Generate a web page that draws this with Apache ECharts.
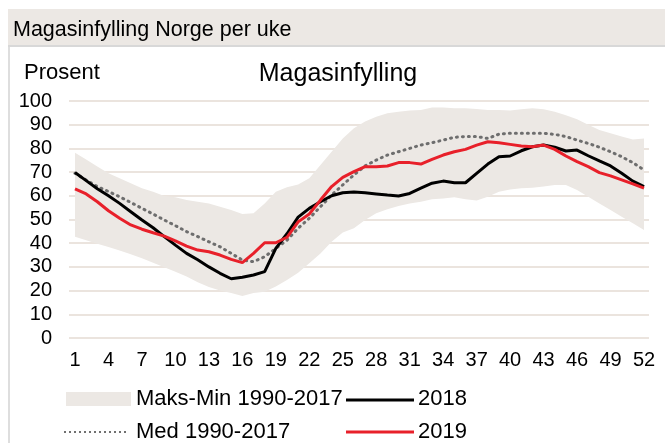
<!DOCTYPE html>
<html>
<head>
<meta charset="utf-8">
<script src="https://cdn.jsdelivr.net/npm/echarts@6/dist/echarts.min.js"></script>
<style>
  html, body { margin: 0; padding: 0; background: #fff; }
  #chart { width: 665px; height: 446px; }
</style>
</head>
<body>
<div id="chart"></div>
<script>
  // uke 1..52
  let weeks = [];
  for (let i = 1; i <= 52; i++) {
    weeks.push(String(i));
  }

  // Maks / min 1990-2017
  const maxValues = [78.2, 75.3, 72.4, 69.5, 67.4, 65.3, 63.2, 61.7, 59.9, 59.4, 58.2, 57.5, 56.8, 55.4, 54, 52.3,
    52.6, 56.8, 61.7, 63.6, 64.8, 67.4, 73, 78.6, 84.2, 88.5, 91.3, 93.4, 94.8, 95.5, 96, 96.2, 97.3, 97.3,
    96.9, 96.9, 96.6, 96.2, 96.2, 96, 96.5, 96.9, 96.5, 95.5, 94, 92.3, 90, 87.8, 86.4, 85, 83.8, 84.2];
  const minValues = [42.7, 41.2, 39.8, 38.4, 36.9, 35.3, 33.6, 31.8, 29.9, 28, 26, 23.5, 21.5, 20, 19, 17.7,
    19, 19.5, 21.7, 24.5, 27.5, 31.5, 35.7, 40.6, 44.5, 46.3, 49.8, 52.6, 54.3, 55.7, 56.8, 57.5, 58.5, 58.9,
    59.4, 58.5, 58, 59.6, 61.7, 62.7, 63.2, 63.4, 63.9, 64.6, 64.6, 62.4, 59.6, 56.8, 54, 51.2, 48.4, 45.6];
  // Median 1990-2017
  const medValues = [69.5, 66.7, 63.9, 61.8, 59.6, 57.2, 54.7, 52.3, 49.8, 47.4, 44.9, 42.8, 40.6, 38.5, 35.7, 32.9,
    32.2, 34.3, 37.8, 41.3, 46.3, 50.5, 55.4, 60.3, 64.6, 68.8, 72.6, 75.1, 77.2, 78.6, 80, 81.4, 82.4, 83.5,
    84.7, 85, 85, 84.2, 86, 86.4, 86.4, 86.4, 86.4, 85.9, 85, 83.5, 82.1, 80.5, 78.6, 76.5, 74, 70.9];
  const values2018 = [69.8, 66.4, 63, 60, 56.8, 53.3, 49.8, 46.5, 42.8, 39.2, 35.7, 33, 30, 27.3, 25, 25.6,
    26.6, 28, 37.8, 44, 51, 54.7, 57.5, 60, 61.3, 61.6, 61.3, 60.8, 60.3, 59.9, 61, 63.2, 65.3, 66.2,
    65.5, 65.5, 69.5, 73.4, 76.5, 76.8, 79, 80.7, 81.4, 80.5, 78.9, 79.3, 76.9, 74.7, 72.6, 69.5, 66.2, 63.9];
  const values2019 = [62.9, 60.8, 57.5, 53.7, 50.5, 47.7, 45.9, 44.4, 43, 41, 38.8, 37.1, 36.4, 35, 33.2, 31.8,
    35.7, 40.2, 40.2, 42.5, 49, 52.3, 58.2, 63.9, 67.8, 70.2, 72.3, 72.3, 72.6, 74, 74, 73.4, 75.4, 77.2,
    78.6, 79.6, 81.4, 82.8, 82.4, 81.7, 81, 80.7, 81.4, 79.6, 76.8, 74.4, 72.3, 69.8, 68.4, 66.7, 65, 63.2];

  const bandValues = maxValues.map((v, i) => +(v - minValues[i]).toFixed(1));

  const font = 'Arial, "Liberation Sans", sans-serif';
  const bandColor = '#ece8e4';

  let chart = echarts.init(document.getElementById('chart'), null, {renderer: 'canvas'});
  chart.setOption({
    animation: false,
    title: [{
      text: 'Magasinfylling',
      left: 333,
      top: 57,
      textAlign: 'center',
      textStyle: {fontFamily: font, fontSize: 25, fontWeight: 'normal', color: '#000'}
    }, {
      text: 'Prosent',
      left: 19,
      top: 57,
      textStyle: {fontFamily: font, fontSize: 22, fontWeight: 'normal', color: '#000'}
    }],
    graphic: [
      // topptekst
      {type: 'rect', left: 8, top: 9, z: -10, shape: {width: 657, height: 37}, style: {fill: bandColor}},
      {type: 'rect', left: 8, top: 45, z: -10, shape: {width: 657, height: 2}, style: {fill: '#d8d8d8'}},
      {type: 'rect', left: 8, top: 47, z: -10, shape: {width: 2, height: 396}, style: {fill: '#dedede'}},
      {type: 'text', left: 13, top: 19, style: {text: 'Magasinfylling Norge per uke', font: '21.5px ' + font, fill: '#000'}},
      // forklaring
      {type: 'rect', left: 66, top: 392, shape: {width: 65, height: 14}, style: {fill: bandColor}},
      {type: 'text', left: 136, top: 388, style: {text: 'Maks-Min 1990-2017', font: '22px ' + font, fill: '#000'}},
      {type: 'line', shape: {x1: 346, y1: 400, x2: 414, y2: 400}, style: {stroke: '#000', lineWidth: 3}},
      {type: 'text', left: 418, top: 388, style: {text: '2018', font: '22px ' + font, fill: '#000'}},
      {type: 'line', shape: {x1: 64, y1: 432, x2: 128, y2: 432}, style: {stroke: '#707070', lineWidth: 2, lineDash: [2, 3]}},
      {type: 'text', left: 136, top: 421, style: {text: 'Med 1990-2017', font: '22px ' + font, fill: '#000'}},
      {type: 'line', shape: {x1: 346, y1: 432, x2: 414, y2: 432}, style: {stroke: '#e8202a', lineWidth: 3}},
      {type: 'text', left: 418, top: 421, style: {text: '2019', font: '22px ' + font, fill: '#000'}}
    ],
    grid: [
      {left: 69, right: 16, top: 101, bottom: 108},
      {left: 75, right: 21, top: 101, bottom: 108}
    ],
    xAxis: [{
      gridIndex: 0,
      type: 'value',
      show: false,
      min: 0,
      max: 1
    }, {
      gridIndex: 1,
      type: 'category',
      data: weeks,
      boundaryGap: false,
      axisLine: {show: false},
      axisTick: {show: false},
      axisLabel: {
        interval: 2,
        margin: 12,
        fontFamily: font,
        fontSize: 20,
        color: '#000'
      }
    }],
    yAxis: [{
      gridIndex: 0,
      type: 'value',
      min: 0,
      max: 100,
      interval: 10,
      axisLine: {show: false},
      axisTick: {show: false},
      axisLabel: {margin: 17, fontFamily: font, fontSize: 20, color: '#000'},
      splitLine: {lineStyle: {color: '#ebe4de', width: 2}}
    }, {
      gridIndex: 1,
      type: 'value',
      min: 0,
      max: 100,
      interval: 10,
      show: false
    }],
    series: [{
      name: 'min',
      type: 'line',
      xAxisIndex: 1,
      yAxisIndex: 1,
      stack: 'band',
      data: minValues,
      symbol: 'none',
      silent: true,
      lineStyle: {opacity: 0}
    }, {
      name: 'Maks-Min 1990-2017',
      type: 'line',
      xAxisIndex: 1,
      yAxisIndex: 1,
      stack: 'band',
      data: bandValues,
      symbol: 'none',
      silent: true,
      lineStyle: {opacity: 0},
      areaStyle: {color: bandColor, opacity: 1}
    }, {
      name: 'Med 1990-2017',
      type: 'line',
      xAxisIndex: 1,
      yAxisIndex: 1,
      data: medValues,
      symbol: 'none',
      lineStyle: {color: '#6e6e6e', width: 3, type: [1, 5], cap: 'round'}
    }, {
      name: '2018',
      type: 'line',
      xAxisIndex: 1,
      yAxisIndex: 1,
      data: values2018,
      symbol: 'none',
      lineStyle: {color: '#000', width: 3}
    }, {
      name: '2019',
      type: 'line',
      xAxisIndex: 1,
      yAxisIndex: 1,
      data: values2019,
      symbol: 'none',
      lineStyle: {color: '#e8202a', width: 3}
    }]
  });
</script>
</body>
</html>
